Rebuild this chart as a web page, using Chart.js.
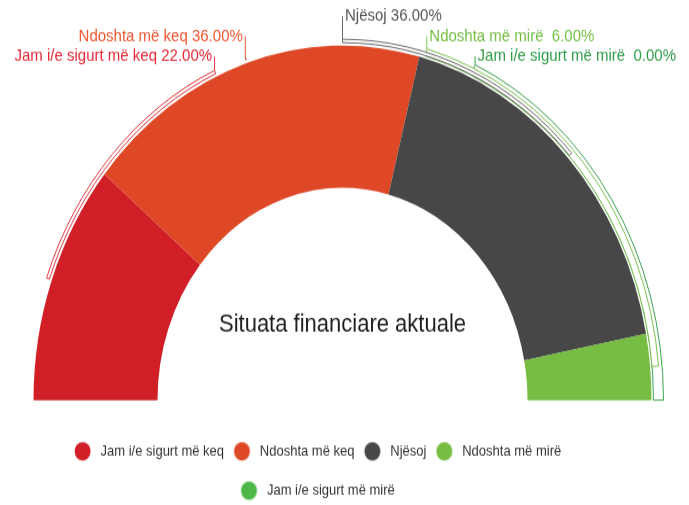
<!DOCTYPE html>
<html><head><meta charset="utf-8">
<script src="https://cdn.jsdelivr.net/npm/chart.js@4.4.1/dist/chart.umd.min.js"></script>
<style>
html,body{margin:0;padding:0;overflow:hidden;background:#fff;width:689px;height:505px;}
#wrap{position:absolute;left:0;top:0;width:689px;height:444px;transform:scaleY(1.14773);transform-origin:0 0;}
canvas{display:block;}
</style></head><body>
<div id="wrap"><canvas id="c" width="689" height="444"></canvas></div>
<script>
// ---- data ----
const categories = ['Jam i/e sigurt më keq', 'Ndoshta më keq', 'Njësoj', 'Ndoshta më mirë', 'Jam i/e sigurt më mirë'];
const shares = [22, 36, 36, 6, 0];
const chartTitle = 'Situata financiare aktuale';

// ---- styles / layout ----
const FONT = '"Liberation Sans", Arial, sans-serif';
const segmentColors = ['#D01F27', '#DE4826', '#474747', '#77BD43', '#4DB748'];
const labelColors = ['#E42A36', '#EC5631', '#555555', '#74BE45', '#2F9C48'];
const bandColors = ['#E0363E', '#E65430', '#6A6A6A', '#7CC250', '#3BA24F'];
const labelAngles = [66, 72, 90, 105.4, 114.4];   // degrees from the left end of the gauge
const labelRise = [12, 18, 20, 11, 7.4];
const bandRadii = [[2.5, 5.5], [2.5, 5.5], [2.5, 5.5], [2, 8.5], [2, 12]];
const bandOrder = [4, 3, 0, 1, 2];

function makeDot(color) {
  const c = document.createElement('canvas');
  c.width = 34; c.height = 18;
  const g = c.getContext('2d');
  g.fillStyle = color;
  g.beginPath(); g.arc(17 - 7.4, 9, 8, 0, Math.PI * 2); g.fill();
  return c;
}
const dots = segmentColors.map(makeDot);

const gaugeDecor = {
  id: 'gaugeDecor',
  afterDatasetsDraw(chart) {
    const ctx = chart.ctx;
    const arcs = chart.getDatasetMeta(0).data;
    if (!arcs.length) return;
    const cx = arcs[0].x, cy = arcs[0].y, R = arcs[0].outerRadius;
    ctx.save();
    bandOrder.forEach(i => {
      const a = arcs[i];
      const mid = (a.startAngle + a.endAngle) / 2;
      const tgt = -Math.PI + labelAngles[i] * Math.PI / 180;
      const [ri, ro] = bandRadii[i];
      const lo = Math.min(mid, tgt), hi = Math.max(mid, tgt);
      ctx.beginPath();
      ctx.arc(cx, cy, R + ro, lo, hi, false);
      ctx.arc(cx, cy, R + ri, hi, lo, true);
      ctx.closePath();
      ctx.fillStyle = '#fff'; ctx.fill();
      ctx.lineWidth = 1; ctx.strokeStyle = bandColors[i]; ctx.stroke();
    });
    ctx.font = '15px ' + FONT;
    ctx.textBaseline = 'middle';
    categories.forEach((lab, i) => {
      const tgt = -Math.PI + labelAngles[i] * Math.PI / 180;
      const ro = R + bandRadii[i][1];
      const px = cx + ro * Math.cos(tgt), py = cy + ro * Math.sin(tgt);
      const ty = py - labelRise[i];
      ctx.beginPath(); ctx.moveTo(px, py); ctx.lineTo(px, ty);
      ctx.lineWidth = 1; ctx.strokeStyle = bandColors[i]; ctx.stroke();
      const txt = lab + ' ' + shares[i].toFixed(2).padStart(5, ' ') + '%';
      const left = labelAngles[i] < 90;
      ctx.textAlign = left ? 'right' : 'left';
      ctx.fillStyle = labelColors[i];
      ctx.fillText(txt, px + (left ? -2.5 : 2.5), ty);
    });
    ctx.font = '22px ' + FONT;
    ctx.textAlign = 'center';
    ctx.fillStyle = '#1e1e1e';
    ctx.fillText(chartTitle, cx, cy - 65.3);
    ctx.restore();
  }
};

new Chart(document.getElementById('c'), {
  type: 'doughnut',
  data: {
    labels: categories,
    datasets: [{
      data: shares,
      backgroundColor: segmentColors,
      borderWidth: 0,
      hoverOffset: 0
    }]
  },
  options: {
    responsive: false,
    animation: false,
    events: [],
    rotation: -90,
    circumference: 180,
    radius: 309,
    cutout: '59.87%',
    layout: { padding: { top: 22.9, right: 41.8, bottom: 0, left: 0 } },
    plugins: {
      tooltip: { enabled: false },
      title: { display: true, position: 'left', text: '', font: { size: 10, lineHeight: 1 }, padding: { top: 13.9, bottom: 13.9 } },
      legend: {
        position: 'bottom',
        labels: {
          usePointStyle: true,
          pointStyleWidth: 8,
          padding: 21.3,
          color: '#333',
          font: { size: 13, family: FONT },
          generateLabels(chart) {
            const ds = chart.data.datasets[0];
            return chart.data.labels.map((label, i) => ({
              text: label,
              fillStyle: ds.backgroundColor[i],
              strokeStyle: ds.backgroundColor[i],
              lineWidth: 0,
              pointStyle: dots[i],
              fontColor: '#333',
              hidden: !chart.getDataVisibility(i),
              index: i
            }));
          }
        }
      }
    }
  },
  plugins: [gaugeDecor]
});
</script>
</body></html>
